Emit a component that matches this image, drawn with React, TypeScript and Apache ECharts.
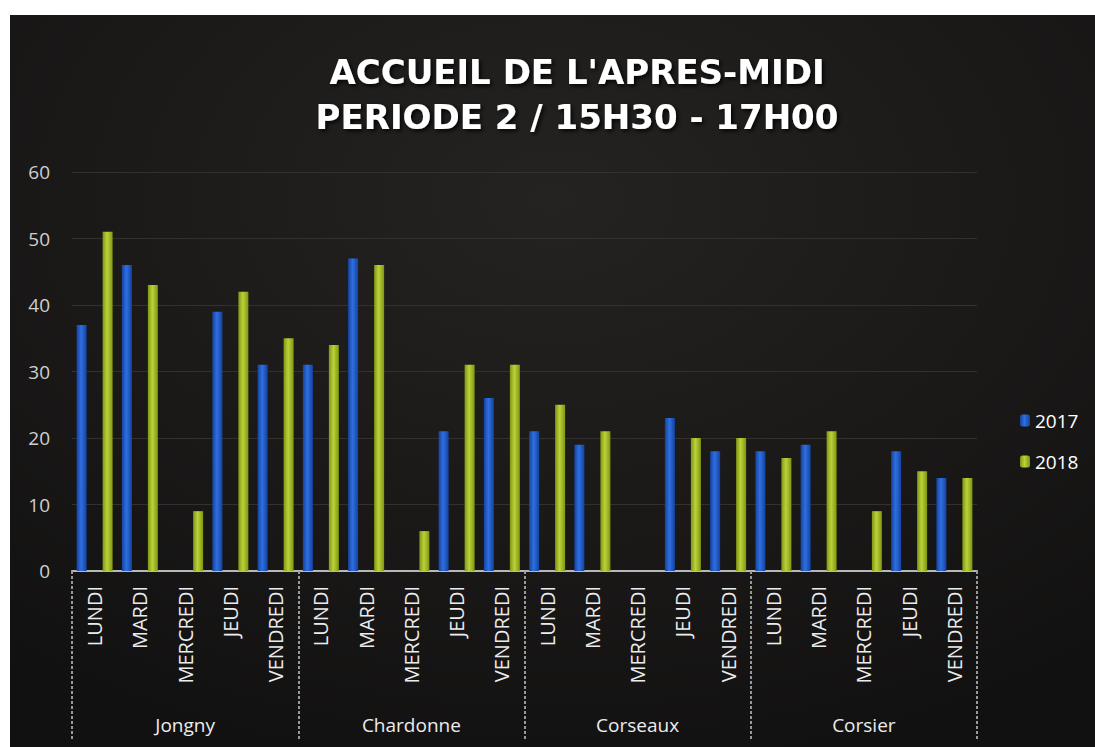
import React, { useEffect, useRef } from "react";
import * as echarts from "echarts";

const groups = ["Jongny", "Chardonne", "Corseaux", "Corsier"];
const days = ["LUNDI", "MARDI", "MERCREDI", "JEUDI", "VENDREDI"];
const categories = groups.flatMap((g) => days.map((d) => `${g}|${d}`));
const values2017 = [37, 46, 0, 39, 31, 31, 47, 0, 21, 26, 21, 19, 0, 23, 18, 18, 19, 0, 18, 14];
const values2018 = [51, 43, 9, 42, 35, 34, 46, 6, 31, 31, 25, 21, 0, 20, 20, 17, 21, 9, 15, 14];
const yTicks = [0, 10, 20, 30, 40, 50, 60];
const titleLines = ["ACCUEIL DE L'APRES-MIDI", "PERIODE 2 / 15H30 - 17H00"];

const FONT = "'Open Sans', Lato, sans-serif";
const TITLE_FONT = "'DejaVu Sans', 'Open Sans', sans-serif";

function barGradient(dark: string, light: string) {
  return new echarts.graphic.LinearGradient(0, 0, 1, 0, [
    { offset: 0, color: dark },
    { offset: 0.45, color: light },
    { offset: 1, color: dark },
  ]);
}

const titleStyle = {
  color: "#ffffff",
  fontFamily: TITLE_FONT,
  fontWeight: "bold",
  fontSize: 34,
  textShadowColor: "rgba(0,0,0,0.9)",
  textShadowBlur: 4,
  textShadowOffsetX: 2,
  textShadowOffsetY: 2,
};

export default function App() {
  const ref = useRef<HTMLDivElement>(null);
  useEffect(() => {
    document.body.style.margin = "0";
    const chart = echarts.init(ref.current!, undefined, { renderer: "svg" });
    chart.setOption({
      animation: false,
      backgroundColor: new echarts.graphic.RadialGradient(0.5, 0.25, 0.8, [
        { offset: 0, color: "#252321" },
        { offset: 1, color: "#121111" },
      ]),
      title: titleLines.map((t, i) => ({
        text: t,
        left: 567,
        top: 40 + i * 45,
        padding: 0,
        textAlign: "center",
        textStyle: titleStyle,
      })),
      legend: {
        orient: "vertical",
        left: 1005,
        top: 391,
        itemGap: 22,
        itemWidth: 10,
        itemHeight: 12,
        textStyle: { color: "#ffffff", fontFamily: FONT, fontSize: 19 },
        data: ["2017", "2018"],
      },
      grid: { left: 62, right: 118, top: 157, bottom: 176 },
      xAxis: [
        {
          type: "category",
          data: categories,
          position: "bottom",
          axisLine: { show: true, lineStyle: { color: "#b8b8b8", width: 2 } },
          axisTick: { show: false },
          axisLabel: {
            interval: 0,
            rotate: 90,
            margin: 15,
            color: "#ececec",
            fontFamily: FONT,
            fontSize: 20,
            formatter: (v: string) => v.split("|")[1],
          },
        },
        {
          type: "category",
          data: groups,
          position: "bottom",
          axisLine: { show: false },
          axisTick: {
            show: true,
            interval: 0,
            length: 169,
            lineStyle: { color: "#9a9a9a", width: 2, type: [3, 2] },
          },
          axisLabel: {
            interval: 0,
            margin: 144,
            color: "#ececec",
            fontFamily: FONT,
            fontSize: 19,
          },
        },
      ],
      yAxis: {
        type: "value",
        min: 0,
        max: 60,
        interval: 10,
        axisLine: { show: false },
        axisTick: { show: false },
        axisLabel: {
          margin: 22,
          color: "#cfcfcf",
          fontFamily: FONT,
          fontSize: 19,
          customValues: yTicks,
        },
        splitLine: { lineStyle: { color: "#33302e", width: 1 } },
      },
      series: [
        {
          name: "2017",
          type: "bar",
          xAxisIndex: 0,
          data: values2017,
          barWidth: 10,
          barGap: "160%",
          itemStyle: { color: barGradient("#1443a0", "#2f6fe0") },
        },
        {
          name: "2018",
          type: "bar",
          xAxisIndex: 0,
          data: values2018,
          barWidth: 10,
          barGap: "160%",
          itemStyle: { color: barGradient("#7f9612", "#bcd23a") },
        },
      ],
    });
    return () => chart.dispose();
  }, []);
  return (
    <div style={{ position: "relative", width: 1095, height: 747, background: "#ffffff" }}>
      <div ref={ref} style={{ position: "absolute", left: 10, top: 15, width: 1085, height: 732 }} />
    </div>
  );
}
